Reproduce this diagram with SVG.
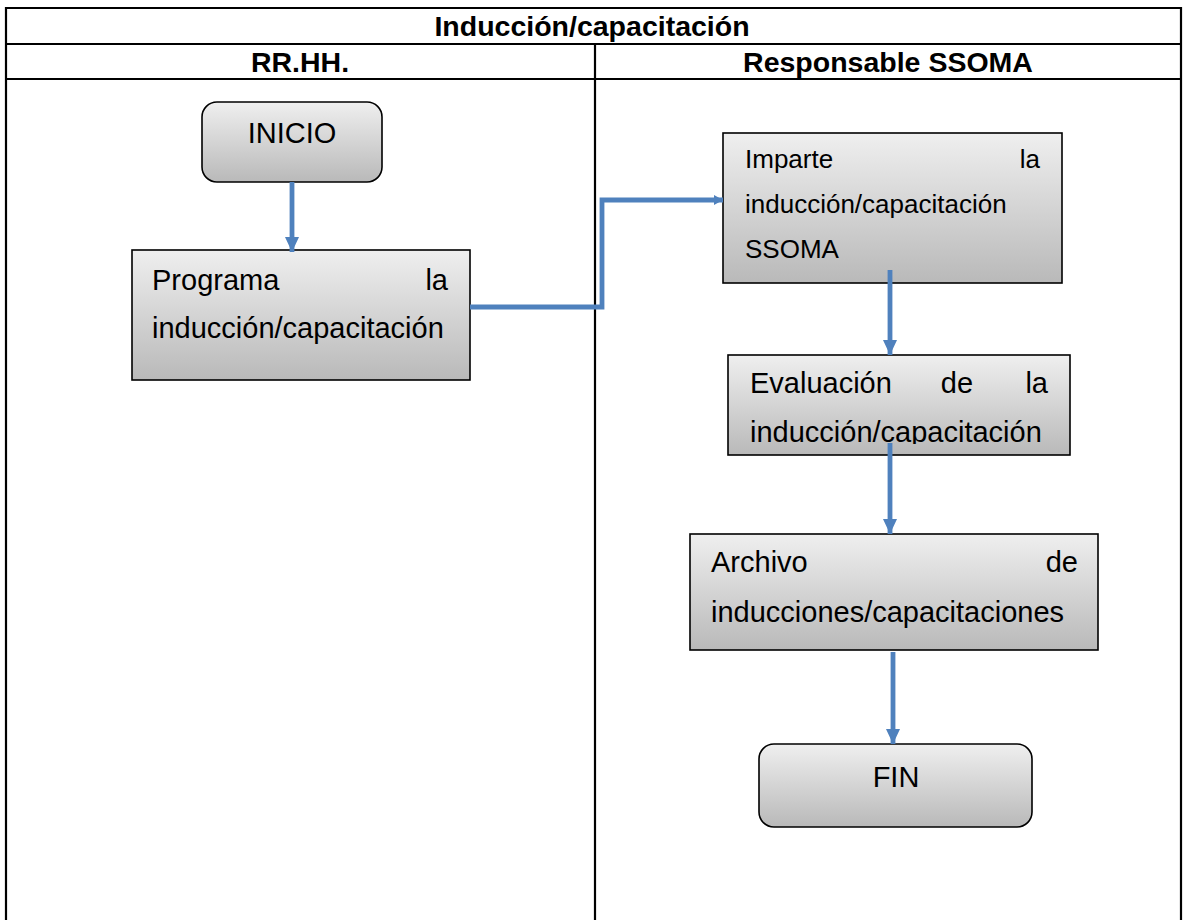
<svg xmlns="http://www.w3.org/2000/svg" width="1183" height="920" viewBox="0 0 1183 920">
<style>
.tbl{fill:none;stroke:#000;stroke-width:2.2}
.hdr{font-family:"Liberation Sans",Arial,sans-serif;font-weight:bold;font-size:28.5px;fill:#000}
.box{fill:url(#g);stroke:#000;stroke-width:1.6}
.t{font-family:"Liberation Sans",Arial,sans-serif;font-size:29px;fill:#000}
.ts{font-family:"Liberation Sans",Arial,sans-serif;font-size:26px;fill:#000}
.c{fill:none;stroke:#4F81BD;stroke-width:4.8;stroke-linejoin:miter}
</style>
<defs>
<linearGradient id="g" x1="0" y1="0" x2="0" y2="1">
<stop offset="0" stop-color="#EFEFEF"/>
<stop offset="1" stop-color="#B9B9B9"/>
</linearGradient>
<marker id="ah" markerUnits="userSpaceOnUse" markerWidth="16" markerHeight="16" refX="15" refY="7" orient="auto" viewBox="0 0 16 16">
<path d="M0,0 L15,7 L0,14 z" fill="#4F81BD"/>
</marker>
<marker id="ahs" markerUnits="userSpaceOnUse" markerWidth="12" markerHeight="12" refX="9" refY="5" orient="auto" viewBox="0 0 12 12">
<path d="M0,0 L9,5 L0,10 z" fill="#4F81BD"/>
</marker>
<clipPath id="evclip"><rect x="728" y="355" width="342" height="89"/></clipPath>
</defs>
<rect width="1183" height="920" fill="#fff"/>
<g id="table">
<path class="tbl" d="M6,925 V8 H1181 V925 M6,44 H1181 M6,79 H1181 M595,44 V925"/>
<text class="hdr" x="592" y="36" text-anchor="middle">Inducción/capacitación</text>
<text class="hdr" x="300" y="72" text-anchor="middle">RR.HH.</text>
<text class="hdr" x="888" y="72" text-anchor="middle">Responsable SSOMA</text>
</g>
<g id="inicio">
<rect class="box" x="202" y="102" width="180" height="80" rx="15"/>
<text class="t" x="292" y="143" text-anchor="middle" font-size="28">INICIO</text>
</g>
<g id="programa">
<rect class="box" x="132" y="250" width="338" height="130"/>
<text class="t" x="152" y="290">Programa</text>
<text class="t" x="448" y="290" text-anchor="end">la</text>
<text class="t" x="152" y="338">inducción/capacitación</text>
</g>
<g id="imparte">
<rect class="box" x="723" y="133" width="339" height="150"/>
<text class="ts" x="745" y="168">Imparte</text>
<text class="ts" x="1040" y="168" text-anchor="end">la</text>
<text class="ts" x="745" y="213">inducción/capacitación</text>
<text class="ts" x="745" y="258">SSOMA</text>
</g>
<g id="evaluacion">
<rect class="box" x="728" y="355" width="342" height="100"/>
<text class="t" x="750" y="393">Evaluación</text>
<text class="t" x="957" y="393" text-anchor="middle">de</text>
<text class="t" x="1048" y="393" text-anchor="end">la</text>
<text class="t" x="750" y="442" clip-path="url(#evclip)">inducción/capacitación</text>
</g>
<g id="archivo">
<rect class="box" x="690" y="534" width="408" height="116"/>
<text class="t" x="711" y="572">Archivo</text>
<text class="t" x="1078" y="572" text-anchor="end">de</text>
<text class="t" x="711" y="622">inducciones/capacitaciones</text>
</g>
<g id="fin">
<rect class="box" x="759" y="744" width="273" height="83" rx="15"/>
<text class="t" x="896" y="787" text-anchor="middle" font-size="28">FIN</text>
</g>
<g id="connectors">
<path class="c" d="M292,182 V252" marker-end="url(#ah)"/>
<path class="c" d="M470,307 H602 V200 H723" marker-end="url(#ahs)"/>
<path class="c" d="M890,270 V355" marker-end="url(#ah)"/>
<path class="c" d="M890,443 V534" marker-end="url(#ah)"/>
<path class="c" d="M893,652 V744" marker-end="url(#ah)"/>
</g>
</svg>
